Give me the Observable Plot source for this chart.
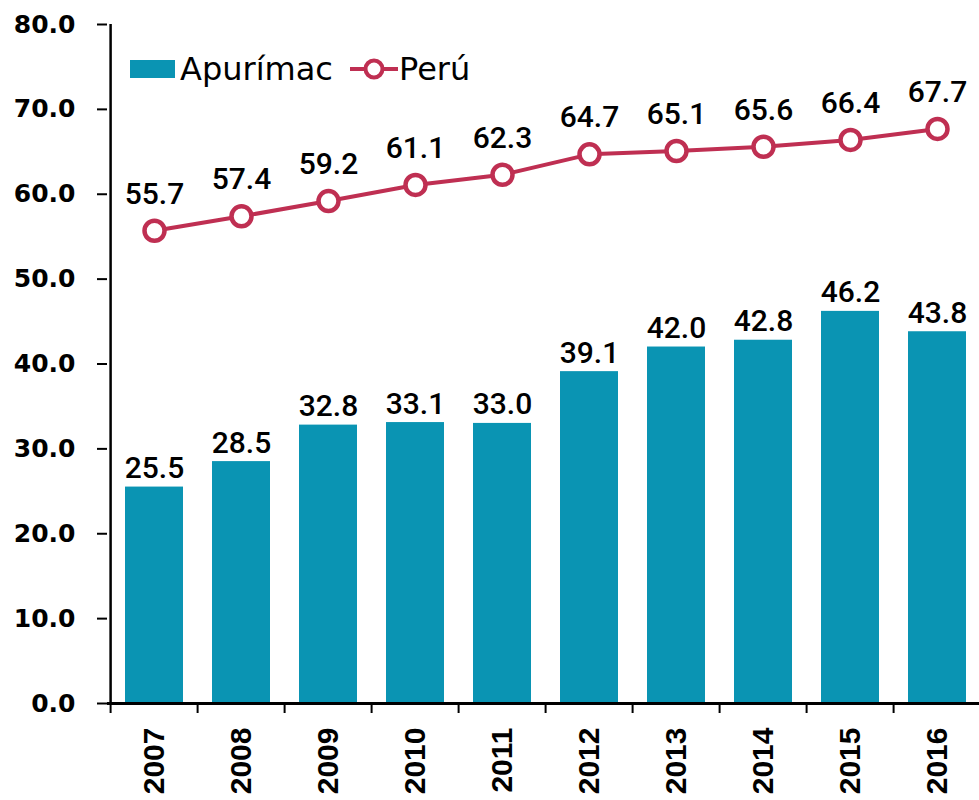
<!DOCTYPE html>
<html><head><meta charset="utf-8">
<script src="https://cdn.jsdelivr.net/npm/d3@7"></script>
<script src="https://cdn.jsdelivr.net/npm/@observablehq/plot@0.6"></script>
<style>
body{margin:0;background:#fff;}
#wrap{position:relative;width:979px;height:800px;}
</style></head><body><div id="wrap"></div>
<script>
const years = ["2007","2008","2009","2010","2011","2012","2013","2014","2015","2016"];
const apurimac = [25.5,28.5,32.8,33.1,33.0,39.1,42.0,42.8,46.2,43.8];
const peru = [55.7,57.4,59.2,61.1,62.3,64.7,65.1,65.6,66.4,67.7];
const yTicks = [0,10,20,30,40,50,60,70,80];
const series = ["Apurímac","Perú"];
const colors = ["#0a94b3","#bf2f52"];
const data = years.map((y,i)=>({year:y, apurimac:apurimac[i], peru:peru[i]}));

const labelFont = {fontFamily:"Roboto", fontWeight:500, fontSize:30, fill:"black"};
const half = (985-107)/10/2;

const chart = Plot.plot({
  width:979, height:800, marginLeft:107, marginTop:24, marginBottom:97, marginRight:0,
  x:{domain:years, range:[107,985], paddingInner:0.33, paddingOuter:0.165, align:0.5},
  y:{domain:[0,80], range:[703,24]},
  style:{background:"white", overflow:"visible"},
  marks:[
    Plot.barY(data,{x:"year",y:"apurimac",fill:colors[0]}),
    Plot.text(data,{x:"year",y:"apurimac",text:d=>d.apurimac.toFixed(1),lineAnchor:"bottom",dy:-9,...labelFont}),
    Plot.lineY(data,{x:"year",y:"peru",stroke:colors[1],strokeWidth:4}),
    Plot.dot(data,{x:"year",y:"peru",r:10,fill:"white",stroke:colors[1],strokeWidth:4.5}),
    Plot.text(data,{x:"year",y:"peru",text:d=>d.peru.toFixed(1),lineAnchor:"bottom",dy:-27,...labelFont}),
    Plot.ruleY([0],{stroke:"black",strokeWidth:3}),
    Plot.ruleX([years[0]],{dx:-half,y1:0,y2:80,stroke:"black",strokeWidth:2.5}),
    Plot.axisY(yTicks,{tickSize:10,tickPadding:22,tickFormat:d=>d.toFixed(1),fontSize:25,fontFamily:"DejaVu Sans",fontWeight:"bold",label:null,strokeWidth:2,fill:"black"}),
    Plot.axisX({tickSize:10,tickFormat:()=>"",dx:-half,label:null,strokeWidth:2}),
    Plot.axisX({tickSize:0,tickRotate:-90,tickPadding:24,fontSize:30,fontFamily:"Liberation Sans",fontWeight:"bold",label:null,fill:"black"})
  ]
});
document.getElementById("wrap").appendChild(chart);

// legend
const svg = d3.select(chart);
const lg = svg.append("g").attr("font-family","DejaVu Sans").attr("font-size",32).attr("fill","black").attr("text-anchor","start");
lg.append("rect").attr("x",130).attr("y",60).attr("width",45).attr("height",18).attr("fill",colors[0]);
lg.append("text").attr("x",180).attr("y",80).text(series[0]);
lg.append("line").attr("x1",350).attr("x2",398).attr("y1",69).attr("y2",69).attr("stroke",colors[1]).attr("stroke-width",4);
lg.append("circle").attr("cx",374).attr("cy",69).attr("r",8.5).attr("fill","white").attr("stroke",colors[1]).attr("stroke-width",4);
lg.append("text").attr("x",399).attr("y",80).text(series[1]);
</script></body></html>
